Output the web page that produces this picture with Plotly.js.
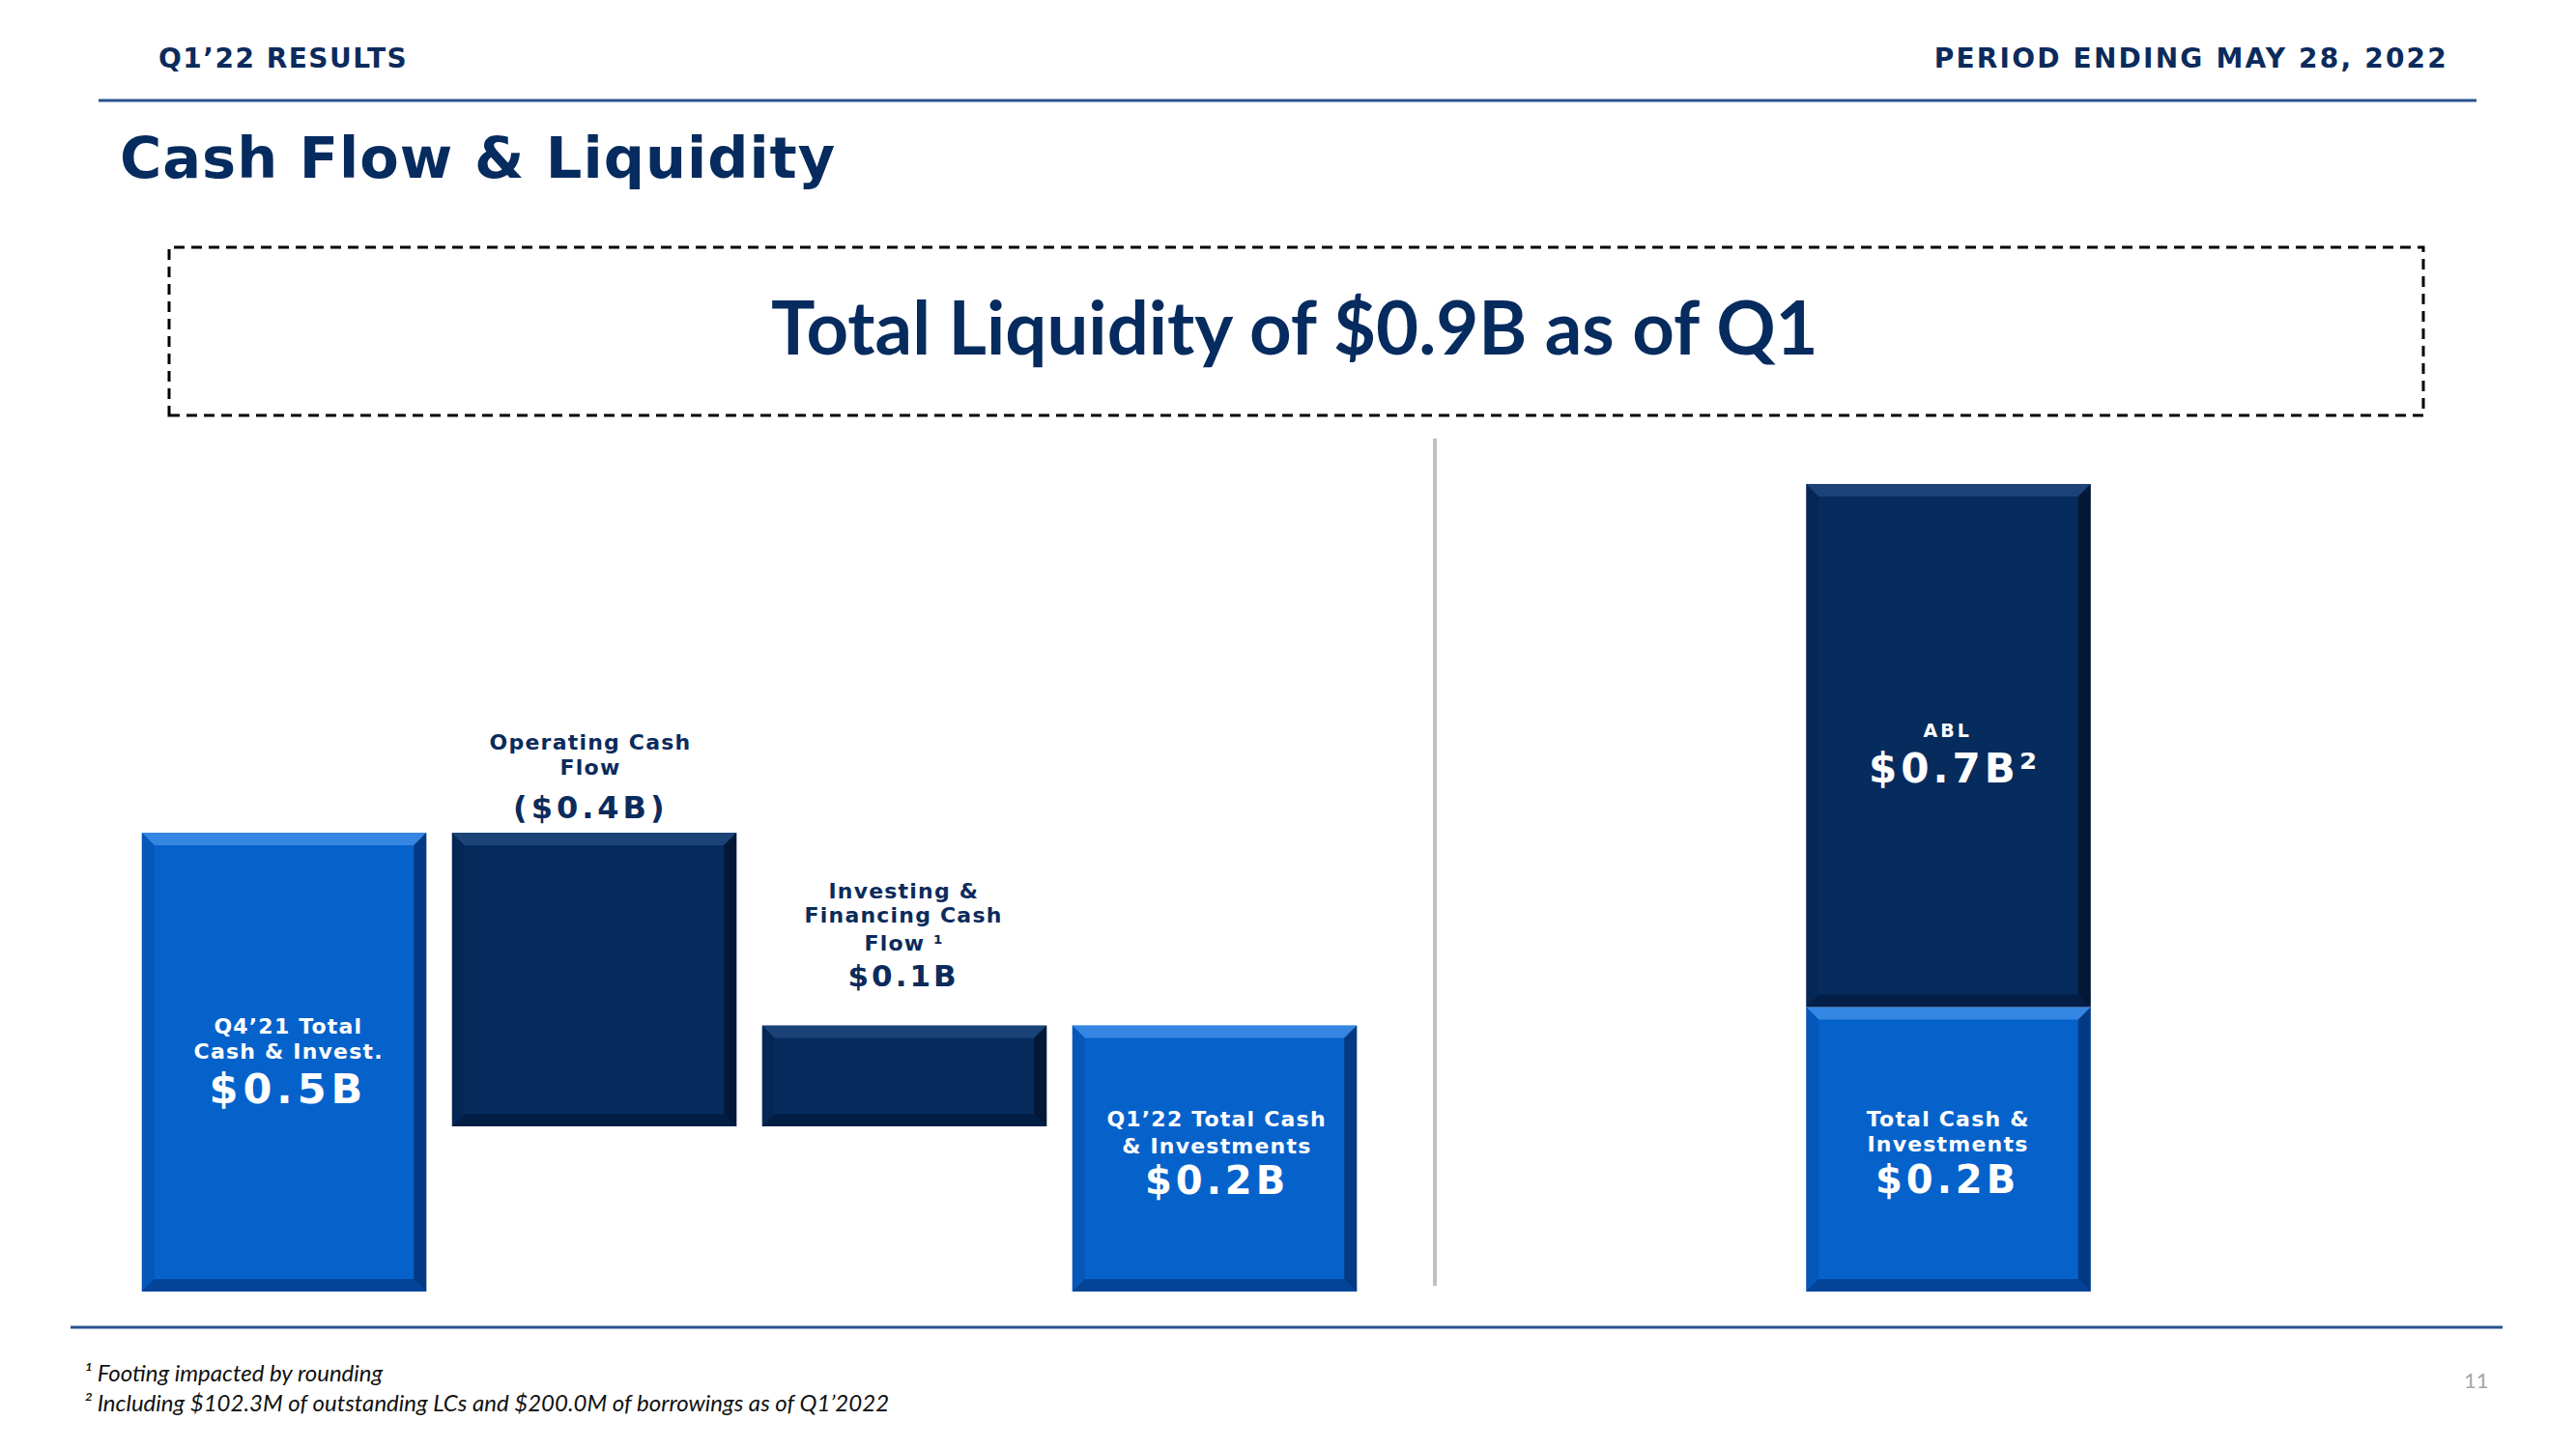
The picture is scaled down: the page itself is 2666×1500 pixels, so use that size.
<!DOCTYPE html>
<html>
<head>
<meta charset="utf-8">
<script src="https://cdn.plot.ly/plotly-3.0.1.min.js"></script>
<style>
html, body { margin: 0; padding: 0; background: #ffffff; }
#chart { width: 2666px; height: 1500px; }
</style>
<style id="spacing"></style>
</head>
<body>
<div id="chart"></div>
<script>
// ---------------- DATA ----------------
const flowCategories = ["Q4’21 Total Cash & Invest.", "Operating Cash Flow", "Investing & Financing Cash Flow", "Q1’22 Total Cash & Investments"];
const flowMeasures = ["absolute", "relative", "relative", "total"];
const flowValues = [0.50, -0.32, 0.11, 0];           // bar heights as drawn ($B scale of the picture)
const flowNameLines = [["Q4’21 Total", "Cash & Invest."], ["Operating Cash", "Flow"], ["Investing &", "Financing Cash", "Flow ¹"], ["Q1’22 Total Cash", "& Investments"]];
const flowValueLabels = ["$0.5B", "($0.4B)", "$0.1B", "$0.2B"];

const liquidityCategory = ["Q1’22 Total Liquidity"];
const liquidityCash = [0.31];
const liquidityABL = [0.57];
const liquidityCashLines = ["Total Cash &", "Investments"];
const liquidityABLLines = ["ABL"];
const liquidityCashLabel = "$0.2B";
const liquidityABLLabel = "$0.7B²";

const headerLeft = "Q1’22 RESULTS";
const headerRight = "PERIOD ENDING MAY 28, 2022";
const pageTitle = "Cash Flow & Liquidity";
const boxTitle = "Total Liquidity of $0.9B as of Q1";
const footnotes = ["¹ Footing impacted by rounding", "² Including $102.3M of outstanding LCs and $200.0M of borrowings as of Q1’2022"];
const pageNumber = "11";

// ---------------- STYLE / LAYOUT ----------------
const W = 2666, H = 1500;
const px2x = p => p / W;
const px2y = p => 1 - p / H;
const BLUE = "#0662CB";
const NAVY = "#062C5E";
const TEXT_NAVY = "#0B2B5C";
const GEO = '"DejaVu Sans", Verdana, sans-serif';
const HUM = 'Lato, "Open Sans", sans-serif';
const BAR_GAP = 0.0826;
const Y_RANGE = [0, 0.9];
const Y_BOTTOM_PX = 1337, Y_TOP_PX = 482;
const PX_PER_VAL = (Y_BOTTOM_PX - Y_TOP_PX) / (Y_RANGE[1] - Y_RANGE[0]);
const PX_PER_CAT = 321;

// waterfall computation
const flowBase = [], flowHeight = [], flowColor = [];
let running = 0;
flowMeasures.forEach((m, i) => {
  const v = flowValues[i];
  if (m === "absolute") { flowBase.push(0); flowHeight.push(v); running = v; flowColor.push(BLUE); }
  else if (m === "total") { flowBase.push(0); flowHeight.push(running); flowColor.push(BLUE); }
  else { flowBase.push(Math.min(running, running + v)); flowHeight.push(Math.abs(v)); running += v; flowColor.push(NAVY); }
});

const traces = [
  { type: "bar", x: flowCategories, y: flowHeight, base: flowBase, xaxis: "x", yaxis: "y",
    marker: { color: flowColor, line: { width: 0 } }, hoverinfo: "skip" },
  { type: "bar", x: liquidityCategory, y: liquidityCash, base: [0], xaxis: "x2", yaxis: "y",
    marker: { color: BLUE, line: { width: 0 } }, hoverinfo: "skip" },
  { type: "bar", x: liquidityCategory, y: liquidityABL, base: liquidityCash, xaxis: "x2", yaxis: "y",
    marker: { color: NAVY, line: { width: 0 } }, hoverinfo: "skip" }
];

// ---------------- SHAPES ----------------
const shapes = [];
shapes.push({ type: "line", xref: "paper", yref: "paper", x0: px2x(102), x1: px2x(2563), y0: px2y(104), y1: px2y(104), line: { color: "#2A5290", width: 3 } });
shapes.push({ type: "line", xref: "paper", yref: "paper", x0: px2x(73), x1: px2x(2590), y0: px2y(1374), y1: px2y(1374), line: { color: "#2A5290", width: 3 } });
shapes.push({ type: "rect", xref: "paper", yref: "paper", x0: px2x(175), x1: px2x(2508), y0: px2y(430), y1: px2y(256), line: { color: "#000000", width: 3, dash: "11px,7px" }, fillcolor: "rgba(0,0,0,0)" });
shapes.push({ type: "line", xref: "paper", yref: "paper", x0: px2x(1485), x1: px2x(1485), y0: px2y(454), y1: px2y(1331), line: { color: "#BFBFBF", width: 4 } });

// bevel decoration for each bar segment
const HALF = (1 - BAR_GAP) / 2;
function bevel(xref, xi, lo, hi, kind) {
  const b = 13;
  const bx = b / PX_PER_CAT, by = b / PX_PER_VAL;
  const L = xi - HALF, R = xi + HALF;
  const pal = kind === "blue"
    ? { top: "rgba(110,180,255,0.45)", bottom: "rgba(0,25,75,0.40)", left: "rgba(0,30,90,0.15)", right: "rgba(0,12,45,0.45)" }
    : { top: "rgba(120,160,220,0.20)", bottom: "rgba(0,5,25,0.35)", left: "rgba(0,5,25,0.12)", right: "rgba(0,3,15,0.50)" };
  const P = pts => "M" + pts.map(p => p[0] + "," + p[1]).join(" L") + " Z";
  const mk = (path, col) => ({ type: "path", xref: xref, yref: "y", path: path, fillcolor: col, line: { width: 0 }, layer: "above" });
  shapes.push(mk(P([[L, hi], [R, hi], [R - bx, hi - by], [L + bx, hi - by]]), pal.top));
  shapes.push(mk(P([[L, lo], [R, lo], [R - bx, lo + by], [L + bx, lo + by]]), pal.bottom));
  shapes.push(mk(P([[L, lo], [L, hi], [L + bx, hi - by], [L + bx, lo + by]]), pal.left));
  shapes.push(mk(P([[R, lo], [R, hi], [R - bx, hi - by], [R - bx, lo + by]]), pal.right));
}
flowCategories.forEach((c, i) => bevel("x", i, flowBase[i], flowBase[i] + flowHeight[i], flowColor[i] === BLUE ? "blue" : "navy"));
bevel("x2", 0, 0, liquidityCash[0], "blue");
bevel("x2", 0, liquidityCash[0], liquidityCash[0] + liquidityABL[0], "navy");

// ---------------- ANNOTATIONS ----------------
const annotations = [];
const spacing = [];
function txt(text, o) {
  annotations.push({
    text: text, showarrow: false,
    xref: o.xref || "paper", x: o.x, xshift: o.xshift || 0,
    yref: "paper", y: px2y(o.y), yanchor: "middle",
    xanchor: o.xanchor || "center", align: o.xanchor === "left" ? "left" : (o.xanchor === "right" ? "right" : "center"),
    font: { family: o.family || GEO, size: o.size, color: o.color || TEXT_NAVY, weight: o.weight || 700, style: o.style || "normal" }
  });
  spacing.push(o.ls || 0);
}
txt(headerLeft, { x: px2x(162), xanchor: "left", y: 61, size: 28, ls: 1.5 });
txt(headerRight, { x: px2x(2536), xanchor: "right", y: 60, size: 28, ls: 2.2 });
txt(pageTitle, { x: px2x(122), xanchor: "left", y: 163, size: 59, ls: 1, color: "#062B5E" });
txt(boxTitle, { x: px2x(1340), y: 337, size: 76, family: HUM, color: "#062B5E" });

const labelSpec = [
  { inside: true, shift: 4, lines: [1062, 1088.5], val: 1127, vsize: 43, vls: 5 },
  { inside: false, shift: -4, lines: [768, 794], val: 836, vsize: 32, vls: 4 },
  { inside: false, shift: -1, lines: [922, 947, 976.5], val: 1009.5, vsize: 31, vls: 3 },
  { inside: true, shift: 2, lines: [1158.5, 1186], val: 1222, vsize: 40, vls: 4 }
];
flowCategories.forEach((c, i) => {
  const s = labelSpec[i];
  const col = s.inside ? "#FFFFFF" : TEXT_NAVY;
  flowNameLines[i].forEach((ln, k) => txt(ln, { xref: "x", x: c, xshift: s.shift, y: s.lines[k], size: 22, ls: 1.2, color: col }));
  txt(flowValueLabels[i], { xref: "x", x: c, xshift: s.shift, y: s.val, size: s.vsize, ls: s.vls, color: col });
});
txt(liquidityABLLines[0], { xref: "x2", x: liquidityCategory[0], xshift: -1, y: 755.5, size: 19, ls: 3, color: "#FFFFFF" });
txt(liquidityABLLabel, { xref: "x2", x: liquidityCategory[0], xshift: 6, y: 796, size: 42, ls: 4, color: "#FFFFFF" });
txt(liquidityCashLines[0], { xref: "x2", x: liquidityCategory[0], xshift: -1, y: 1158, size: 22, ls: 1.2, color: "#FFFFFF" });
txt(liquidityCashLines[1], { xref: "x2", x: liquidityCategory[0], xshift: -1, y: 1184.5, size: 22, ls: 1.2, color: "#FFFFFF" });
txt(liquidityCashLabel, { xref: "x2", x: liquidityCategory[0], xshift: -1, y: 1220.5, size: 40, ls: 4, color: "#FFFFFF" });

txt(footnotes[0], { x: px2x(85), xanchor: "left", y: 1420, size: 24, family: HUM, weight: 400, style: "italic", color: "#111111" });
txt(footnotes[1], { x: px2x(85), xanchor: "left", y: 1451, size: 24, family: HUM, weight: 400, style: "italic", color: "#111111" });
txt(pageNumber, { x: px2x(2578), xanchor: "right", y: 1428, size: 22, family: HUM, weight: 400, color: "#A6A6A6" });

document.getElementById("spacing").textContent = spacing.map((s, i) =>
  s ? `#chart g.annotation[data-index="${i}"] text { letter-spacing: ${s}px; }` : "").join("\n");

const layout = {
  width: W, height: H,
  margin: { l: 0, r: 0, t: 0, b: 0, pad: 0 },
  paper_bgcolor: "#FFFFFF", plot_bgcolor: "rgba(0,0,0,0)",
  showlegend: false, barmode: "overlay", bargap: BAR_GAP,
  xaxis: { domain: [px2x(133.5), px2x(1417.5)], type: "category", range: [-0.5, 3.5], visible: false, anchor: "y" },
  xaxis2: { domain: [px2x(1856), px2x(2177)], type: "category", range: [-0.5, 0.5], visible: false, anchor: "y" },
  yaxis: { domain: [px2y(Y_BOTTOM_PX), px2y(Y_TOP_PX)], range: Y_RANGE, visible: false, anchor: "x" },
  shapes: shapes,
  annotations: annotations
};

Plotly.newPlot("chart", traces, layout, { staticPlot: true, displayModeBar: false });
</script>
</body>
</html>
